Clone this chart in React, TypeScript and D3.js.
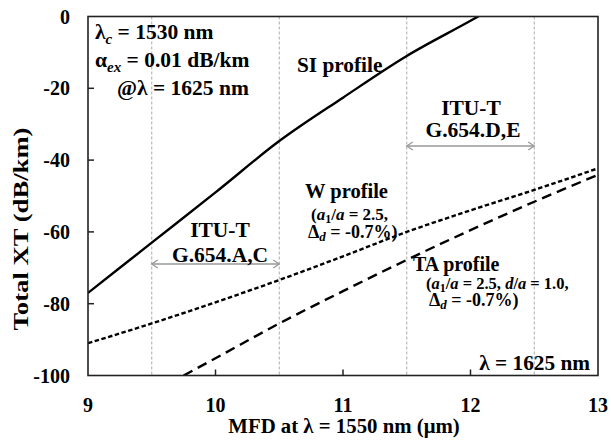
import React from "react";
import * as d3 from "d3";

const xTicks = [9, 10, 11, 12, 13];
const yTicks = [0, -20, -40, -60, -80, -100];
const guideLines = [9.5, 10.5, 11.5, 12.5];

const siMFD = [9, 9.5, 10, 10.5, 11, 11.5, 12, 12.1];
const siXT = [-77, -63, -49, -34.7, -22.6, -11, -1.2, 0.8];

const wMFD = [9, 9.5, 10, 10.5, 11, 11.5, 12, 12.5, 13];
const wXT = [-91, -85.5, -79.6, -73.4, -66.8, -60, -54, -48.3, -42.3];

const taMFD = [9.75, 10, 10.5, 11, 11.5, 12, 12.5, 13];
const taXT = [-100, -95.2, -85.5, -76.5, -67.8, -59.5, -51.6, -44.1];

const rangeAC = [9.5, 10.5];
const rangeDE = [11.5, 12.5];

const W = 611;
const H = 442;
const L = 88, R = 598, T = 16.5, B = 375.5;

const FONT = "Liberation Serif";

export default function App() {
  const x = d3.scaleLinear().domain([9, 13]).range([L, R]);
  const y = d3.scaleLinear().domain([-100, 0]).range([B, T]);
  const line = d3
    .line<[number, number]>()
    .x((d) => x(d[0]))
    .y((d) => y(d[1]))
    .curve(d3.curveMonotoneX);

  const si = siMFD.map((v, i) => [v, siXT[i]] as [number, number]);
  const w = wMFD.map((v, i) => [v, wXT[i]] as [number, number]);
  const ta = taMFD.map((v, i) => [v, taXT[i]] as [number, number]);

  const arrow = (a: number[], yy: number, key: string) => {
    const x1 = x(a[0]), x2 = x(a[1]);
    return (
      <g key={key} stroke="#999" strokeWidth={1.3} fill="none">
        <line x1={x1} x2={x2} y1={yy} y2={yy} />
        <polyline points={`${x1 + 6},${yy - 4} ${x1},${yy} ${x1 + 6},${yy + 4}`} />
        <polyline points={`${x2 - 6},${yy - 4} ${x2},${yy} ${x2 - 6},${yy + 4}`} />
      </g>
    );
  };

  return (
    <svg
      width={W}
      height={H}
      style={{ position: "absolute", left: 0, top: 0, background: "#fff", fontFamily: FONT, fontWeight: 700 }}
    >
      <defs>
        <clipPath id="plot">
          <rect x={L} y={T} width={R - L} height={B - T} />
        </clipPath>
      </defs>
      <rect width={W} height={H} fill="#fff" />

      {guideLines.map((g) => (
        <line
          key={g}
          x1={x(g)}
          x2={x(g)}
          y1={T}
          y2={B}
          stroke="#aaa"
          strokeWidth={1}
          strokeDasharray="3,2"
        />
      ))}

      <g clipPath="url(#plot)" fill="none" stroke="#000" strokeWidth={2.4}>
        <path d={line(si) || ""} />
        <path d={line(w) || ""} strokeDasharray="4.5,2.5" />
        <path d={line(ta) || ""} strokeDasharray="10,6" />
      </g>

      {arrow(rangeAC, 264, "ac")}
      {arrow(rangeDE, 146, "de")}

      {/* frame */}
      <rect x={L} y={T} width={R - L} height={B - T} fill="none" stroke="#222" strokeWidth={1.6} />
      {yTicks.slice(1, -1).map((t) => (
        <line key={t} x1={L} x2={L + 6} y1={y(t)} y2={y(t)} stroke="#222" strokeWidth={1.5} />
      ))}
      {xTicks.slice(1, -1).map((t) => (
        <line key={t} x1={x(t)} x2={x(t)} y1={B} y2={B - 6} stroke="#222" strokeWidth={1.5} />
      ))}

      {/* tick labels */}
      {yTicks.map((t) => (
        <text key={t} x={70} y={y(t) + 7} textAnchor="end" fontSize={20}>
          {t}
        </text>
      ))}
      {xTicks.map((t) => (
        <text key={t} x={x(t)} y={412} textAnchor="middle" fontSize={20}>
          {t}
        </text>
      ))}

      {/* axis titles */}
      <text x={344} y={433} textAnchor="middle" fontSize={20.8}>
        MFD at λ = 1550 nm (μm)
      </text>
      <text
        transform="translate(28,229) rotate(-90)"
        textAnchor="middle"
        fontSize={20}
        textLength={203}
        lengthAdjust="spacingAndGlyphs"
      >
        Total XT (dB/km)
      </text>

      {/* top-left annotation */}
      <text x={95} y={39} fontSize={21.5}>
        λ<tspan dy={5} fontSize={15} fontStyle="italic">c</tspan>
        <tspan dy={-5}> = 1530 nm</tspan>
      </text>
      <text x={95} y={67} fontSize={21.5}>
        α<tspan dy={5} fontSize={15} fontStyle="italic">ex</tspan>
        <tspan dy={-5}> = 0.01 dB/km</tspan>
      </text>
      <text x={117} y={95} fontSize={21.5}>
        @λ = 1625 nm
      </text>

      <text x={297} y={72} fontSize={21.3}>SI profile</text>

      <text x={220} y={237} textAnchor="middle" fontSize={21.5}>ITU-T</text>
      <text x={220} y={262} textAnchor="middle" fontSize={21.5}>G.654.A,C</text>

      <text x={471} y={115} textAnchor="middle" fontSize={21.5}>ITU-T</text>
      <text x={473} y={137} textAnchor="middle" fontSize={21.5}>G.654.D,E</text>

      <text x={305} y={198} fontSize={20.5}>W profile</text>
      <text x={311} y={220} fontSize={17}>
        (<tspan fontStyle="italic">a</tspan>
        <tspan dy={3} fontSize={12}>1</tspan>
        <tspan dy={-3}>/</tspan>
        <tspan fontStyle="italic">a</tspan> = 2.5,
      </text>
      <text x={308} y={238} fontSize={18}>
        Δ<tspan dy={3} fontSize={13} fontStyle="italic">d</tspan>
        <tspan dy={-3}> = -0.7%)</tspan>
      </text>

      <text x={413} y={271} fontSize={20}>TA profile</text>
      <text x={426} y={289} fontSize={16.5}>
        (<tspan fontStyle="italic">a</tspan>
        <tspan dy={3} fontSize={12}>1</tspan>
        <tspan dy={-3}>/</tspan>
        <tspan fontStyle="italic">a</tspan> = 2.5, <tspan fontStyle="italic">d</tspan>/
        <tspan fontStyle="italic">a</tspan> = 1.0,
      </text>
      <text x={429} y={306} fontSize={18}>
        Δ<tspan dy={3} fontSize={13} fontStyle="italic">d</tspan>
        <tspan dy={-3}> = -0.7%)</tspan>
      </text>

      <text x={590} y={370} textAnchor="end" fontSize={21.3}>
        λ = 1625 nm
      </text>
    </svg>
  );
}
